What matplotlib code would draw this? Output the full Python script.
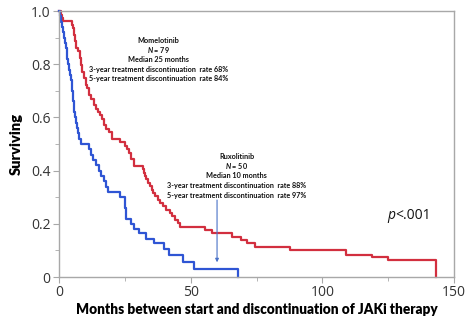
import matplotlib
matplotlib.use("Agg")
import matplotlib.pyplot as plt
from matplotlib.ticker import MultipleLocator, FixedLocator

plt.rcParams['mathtext.fontset'] = 'custom'
plt.rcParams['mathtext.it'] = 'Lato:italic:bold'
plt.rcParams['mathtext.rm'] = 'Lato:bold'

# Ruxolitinib (N = 50), Kaplan-Meier steps
rux_months = [0, 0.3, 0.7, 1.2, 1.6, 2.0, 2.3, 2.6, 2.9, 3.2, 3.5, 3.9, 4.2, 4.5,
              4.8, 5.1, 5.3, 5.5, 5.7, 6.0, 6.3, 6.7, 7.3, 7.7, 8.2, 11.5, 12.2,
              13.0, 14.0, 15.0, 16.0, 17.0, 18.0, 18.7, 23.0, 25.0, 25.3, 27.2,
              28.5, 30.4, 32.9, 36.1, 39.9, 41.8, 46.9, 51.3, 67.8]
rux_surv = [1.0, 0.98, 0.96, 0.94, 0.92, 0.90, 0.88, 0.86, 0.84, 0.82, 0.80, 0.78,
            0.76, 0.74, 0.72, 0.70, 0.68, 0.66, 0.62, 0.60, 0.58, 0.56, 0.54, 0.52,
            0.50, 0.48, 0.46, 0.44, 0.42, 0.40, 0.38, 0.36, 0.34, 0.32, 0.30, 0.26,
            0.22, 0.20, 0.18, 0.164, 0.142, 0.127, 0.104, 0.083, 0.058, 0.029, 0.0]

# Momelotinib (N = 79)
mom_months = [0, 0.8, 1.3, 1.5, 4.8, 5.3, 5.8, 6.2, 6.6, 7.2, 7.8, 8.3, 8.9, 9.5,
              10.1, 10.7, 11.5, 12.3, 13.2, 14.0, 14.8, 15.6, 16.4, 17.2, 18.0,
              19.0, 20.3, 23.0, 25.0, 25.8, 26.5, 27.2, 28.5, 31.9, 32.3, 32.8,
              33.2, 33.8, 34.5, 35.2, 35.7, 36.5, 37.5, 38.5, 39.5, 40.5, 42.0,
              43.0, 44.0, 45.0, 46.0, 55.4, 58.0, 65.7, 69.0, 71.3, 74.4, 87.7,
              109.0, 118.8, 125.0, 143.0]
mom_surv = [1.0, 0.987, 0.975, 0.962, 0.949, 0.937, 0.911, 0.886, 0.861, 0.848,
            0.823, 0.797, 0.772, 0.747, 0.722, 0.709, 0.684, 0.671, 0.646, 0.633,
            0.620, 0.608, 0.595, 0.570, 0.557, 0.544, 0.519, 0.506, 0.494, 0.481,
            0.468, 0.443, 0.418, 0.405, 0.392, 0.380, 0.367, 0.354, 0.342, 0.329,
            0.316, 0.304, 0.291, 0.278, 0.266, 0.253, 0.240, 0.228, 0.215, 0.203,
            0.190, 0.177, 0.165, 0.152, 0.139, 0.127, 0.114, 0.101, 0.084, 0.076,
            0.064, 0.0]

mom_text = ["Momelotinib", r"$N$ = 79", "Median 25 months",
            "3-year treatment discontinuation  rate 68%",
            "5-year treatment discontinuation  rate 84%"]
rux_text = ["Ruxolitinib", r"$N$ = 50", "Median 10 months",
            "3-year treatment discontinuation  rate 88%",
            "5-year treatment discontinuation  rate 97%"]

fig = plt.figure(figsize=(4.74, 3.35), dpi=100)
ax = fig.add_axes([0.1245, 0.173, 0.8335, 0.794])

ax.step(mom_months, mom_surv, where='post', color='#d22f3f', lw=1.6, clip_on=False)
ax.step(rux_months, rux_surv, where='post', color='#2f55d4', lw=1.6, clip_on=False)

ax.set_xlim(0, 150)
ax.set_ylim(0, 1)
ax.xaxis.set_major_locator(MultipleLocator(50))
ax.xaxis.set_minor_locator(MultipleLocator(25))
ax.yaxis.set_major_locator(FixedLocator([0, 0.2, 0.4, 0.6, 0.8, 1.0]))
ax.yaxis.set_minor_locator(MultipleLocator(0.1))
ax.set_yticklabels(['0', '0.2', '0.4', '0.6', '0.8', '1.0'])

for s in ax.spines.values():
    s.set_color('#a8a8a8')
    s.set_linewidth(1.0)
ax.tick_params(which='major', length=4, color='#a8a8a8', labelsize=10,
               labelcolor='#333333', pad=2)
ax.tick_params(which='minor', length=3, color='#a8a8a8')
for lab in ax.get_xticklabels() + ax.get_yticklabels():
    lab.set_fontfamily('Open Sans')

ax.set_xlabel('Months between start and discontinuation of JAKi therapy',
              fontfamily='Lato', fontweight='heavy', fontsize=9.8, labelpad=2)
ax.set_ylabel('Surviving', fontfamily='Lato', fontweight='heavy', fontsize=10.5,
              labelpad=6)

for i, line in enumerate(mom_text):
    ax.text(37.8, 0.89 - i * 0.036, line, ha='center', va='center',
            fontfamily='Lato', fontweight='bold', fontsize=5.2, color='#111111')
for i, line in enumerate(rux_text):
    ax.text(67.4, 0.452 - i * 0.036, line, ha='center', va='center',
            fontfamily='Lato', fontweight='bold', fontsize=5.2, color='#111111')

ax.annotate('', xy=(60, 0.045), xytext=(60, 0.3),
            arrowprops=dict(arrowstyle='-|>', color='#4a72c8', lw=0.8,
                            mutation_scale=5))

pt = ax.text(124.5, 0.233, 'p', ha='left', va='center', fontfamily='Open Sans',
             fontstyle='italic', fontsize=10, color='#111111')
ax.annotate('<.001', xy=(1, 0.5), xycoords=pt, va='center', ha='left',
            fontfamily='Open Sans', fontsize=10, color='#111111')

fig.savefig('out.png', dpi=100)
